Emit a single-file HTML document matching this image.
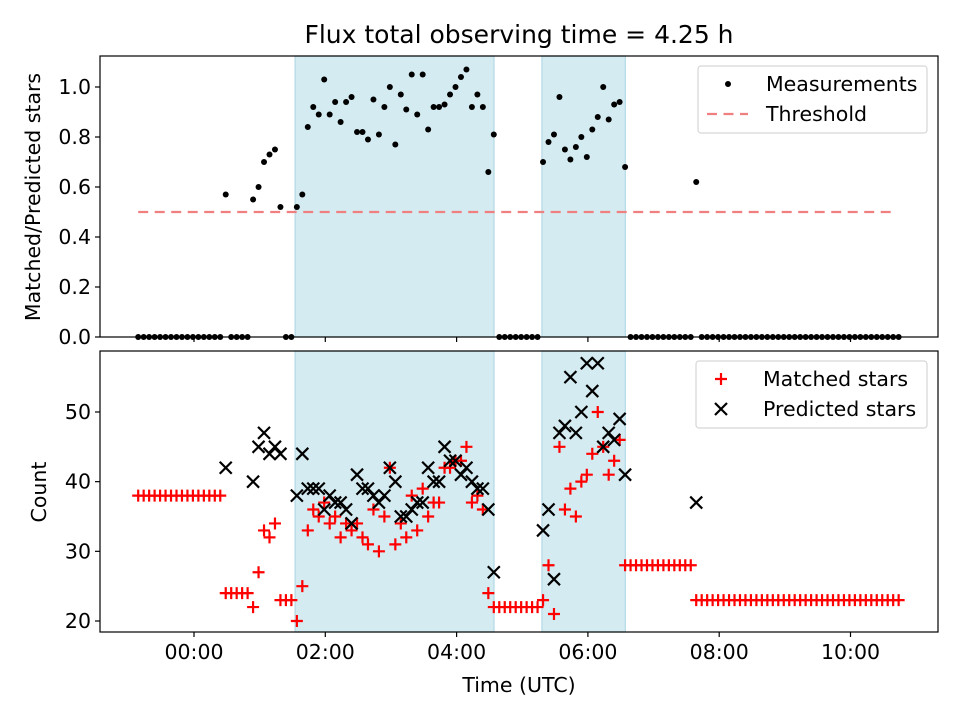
<!DOCTYPE html>
<html><head><meta charset="utf-8"><style>
body{margin:0;background:#fff}
svg{display:block;font-family:"DejaVu Sans","Liberation Sans",sans-serif}
</style></head><body>
<svg id="chart" width="960" height="720" viewBox="0 0 960 720"></svg>
<script>
// 5-minute cadence starting at -0.85 h (UTC hours relative to 00:00)
const startHour = -0.85;
const stepHour = 5/60;
const shadedWindows = [[1.54, 4.57], [5.30, 6.57]];
const thresholdValue = 0.5;
const thresholdRange = [-0.85, 10.70];
const ratioValues = [
0,0,0,0,0,0,0,0,0,0,0,0,0,0,0,0,0.57,0,0,0,0,0.55,0.60,0.70,0.73,0.75,0.52,0,0,
0.52,0.57,0.84,0.92,0.89,1.03,0.89,0.94,0.86,0.94,0.96,0.82,0.82,0.79,0.95,0.81,0.92,1.00,0.77,0.97,0.91,1.05,0.89,1.05,0.83,0.92,0.92,0.93,0.97,1.00,1.04,1.07,0.92,0.97,0.92,0.66,0.81,
0,0,0,0,0,0,0,0,
0.70,0.78,0.81,0.96,0.75,0.71,0.76,0.80,0.72,0.83,0.88,1.00,0.87,0.93,0.94,0.68,
0,0,0,0,0,0,0,0,0,0,0,0,0.62,
0,0,0,0,0,0,0,0,0,0,0,0,0,0,0,0,0,0,0,0,0,0,0,0,0,0,0,0,0,0,0,0,0,0,0,0,0];
const matchedValues = [
38,38,38,38,38,38,38,38,38,38,38,38,38,38,38,38,24,24,24,24,24,22,27,33,32,34,23,23,23,
20,25,33,36,35,37,34,35,32,34,33,34,32,31,36,30,35,42,31,34,32,38,33,39,35,37,37,42,42,43,43,45,37,38,36,24,22,
22,22,22,22,22,22,22,22,
23,28,21,45,36,39,35,40,41,44,50,45,41,43,46,28,
28,28,28,28,28,28,28,28,28,28,28,28,23,
23,23,23,23,23,23,23,23,23,23,23,23,23,23,23,23,23,23,23,23,23,23,23,23,23,23,23,23,23,23,23,23,23,23,23,23,23];
const predictedValues = [
null,null,null,null,null,null,null,null,null,null,null,null,null,null,null,null,42,null,null,null,null,40,45,47,44,45,44,null,null,
38,44,39,39,39,36,38,37,37,36,34,41,39,39,38,37,38,42,40,35,35,36,37,37,42,40,40,45,43,43,41,42,40,39,39,36,27,
null,null,null,null,null,null,null,null,
33,36,26,47,48,55,47,50,57,53,57,45,47,46,49,41,
null,null,null,null,null,null,null,null,null,null,null,null,37,
null,null,null,null,null,null,null,null,null,null,null,null,null,null,null,null,null,null,null,null,null,null,null,null,null,null,null,null,null,null,null,null,null,null,null,null,null];
const xTickValues = [0,2,4,6,8,10];
const xTickLabels = ["00:00","02:00","04:00","06:00","08:00","10:00"];
const topTickValues = [0,0.2,0.4,0.6,0.8,1.0];
const topTickLabels = ["0.0","0.2","0.4","0.6","0.8","1.0"];
const botTickValues = [20,30,40,50];
const botTickLabels = ["20","30","40","50"];

const NS="http://www.w3.org/2000/svg";
const svg=document.getElementById('chart');
function mk(tag,attrs,parent){const e=document.createElementNS(NS,tag);for(const k in attrs)e.setAttribute(k,attrs[k]);(parent||svg).appendChild(e);return e;}
const L=100,R=938;
const T1=56,B1=337,T2=351,B2=632;
const FS=20.5;
const DASH='10,6.5';
const xs=h=>194+h*65.65;
const y1=v=>337-v*250;
const y2=v=>621-(v-20)*6.967;
const times=ratioValues.map((_,i)=>startHour+i*stepHour);

function axesFrame(top,bot,name){
  const g=mk('g',{});
  
  
  shadedWindows.forEach(w=>{
    const r=mk('rect',{x:xs(w[0]),y:top,width:xs(w[1])-xs(w[0]),height:bot-top,fill:'#d4ebf1',stroke:'#b3d9e6','stroke-width':1.2},g);
    
    
  });
  return g;
}
function border(top,bot){
  const r=mk('rect',{x:L,y:top,width:R-L,height:bot-top,fill:'none',stroke:'#000','stroke-width':1.2});
  
  
}
function xticks(bot,labels){
  xTickValues.forEach((v,i)=>{
    mk('line',{x1:xs(v),x2:xs(v),y1:bot,y2:bot+5,stroke:'#000','stroke-width':1.2});
    if(labels){const t=mk('text',{x:xs(v),y:bot+27,'text-anchor':'middle','font-size':FS,fill:'#000'});t.textContent=xTickLabels[i];
      
      }
  });
}
function yticks(vals,labs,yf){
  vals.forEach((v,i)=>{
    mk('line',{x1:L-5,x2:L,y1:yf(v),y2:yf(v),stroke:'#000','stroke-width':1.2});
    const t=mk('text',{x:L-9,y:yf(v)+7,'text-anchor':'end','font-size':FS,fill:'#000'});t.textContent=labs[i];
    
    
  });
}

// top panel
axesFrame(T1,B1,'ratio-panel');
const th=mk('line',{x1:xs(thresholdRange[0]),x2:xs(thresholdRange[1]),y1:y1(thresholdValue),y2:y1(thresholdValue),stroke:'#f08080','stroke-width':2.2,'stroke-dasharray':DASH});


ratioValues.forEach((v,i)=>{
  const c=mk('circle',{cx:xs(times[i]),cy:y1(v),r:3,fill:'#000'});
  
  
});
border(T1,B1);xticks(B1,false);yticks(topTickValues,topTickLabels,y1);

// bottom panel
axesFrame(T2,B2,'count-panel');
matchedValues.forEach((v,i)=>{
  if(v==null)return;const x=xs(times[i]),y=y2(v);
  const p=mk('path',{d:`M${x-6},${y}H${x+6}M${x},${y-6}V${y+6}`,stroke:'#ff0000','stroke-width':2.2});
  
  
});
predictedValues.forEach((v,i)=>{
  if(v==null)return;const x=xs(times[i]),y=y2(v);
  const p=mk('path',{d:`M${x-6},${y-6}L${x+6},${y+6}M${x-6},${y+6}L${x+6},${y-6}`,stroke:'#000','stroke-width':2.2});
  
  
});
border(T2,B2);xticks(B2,true);yticks(botTickValues,botTickLabels,y2);

// titles & labels
function txt(s,attrs,name){const t=mk('text',Object.assign({fill:'#000'},attrs));t.textContent=s;return t;}
txt('Flux total observing time = 4.25 h',{x:519,y:43,'text-anchor':'middle','font-size':25},'chart-title');
txt('Time (UTC)',{x:519,y:692,'text-anchor':'middle','font-size':FS},'x-axis-title');
txt('Matched/Predicted stars',{x:0,y:0,'text-anchor':'middle','font-size':FS,transform:'translate(40,197) rotate(-90)'},'top-y-axis-title');
txt('Count',{x:0,y:0,'text-anchor':'middle','font-size':FS,transform:'translate(46,492) rotate(-90)'},'bottom-y-axis-title');

// legends
function legendBox(x,y,w,h,name){const r=mk('rect',{x:x,y:y,width:w,height:h,rx:3,fill:'#fff','fill-opacity':0.8,stroke:'#d6d6d6','stroke-width':1.2});}
legendBox(698,66,229,67,'top-legend');
mk('circle',{cx:728,cy:84,r:3,fill:'#000'});
txt('Measurements',{x:766,y:91,'font-size':FS},'legend-measurements');
mk('line',{x1:707,x2:748,y1:114,y2:114,stroke:'#f08080','stroke-width':2.2,'stroke-dasharray':DASH});
txt('Threshold',{x:766,y:121,'font-size':FS},'legend-threshold');
legendBox(696,361,231,67,'bottom-legend');
mk('path',{d:'M715,379H727M721,373V385',stroke:'#ff0000','stroke-width':2.2});
txt('Matched stars',{x:763,y:386,'font-size':FS},'legend-matched');
mk('path',{d:'M715,403L727,415M715,415L727,403',stroke:'#000','stroke-width':2.2});
txt('Predicted stars',{x:763,y:416,'font-size':FS},'legend-predicted');
</script>
</body></html>
